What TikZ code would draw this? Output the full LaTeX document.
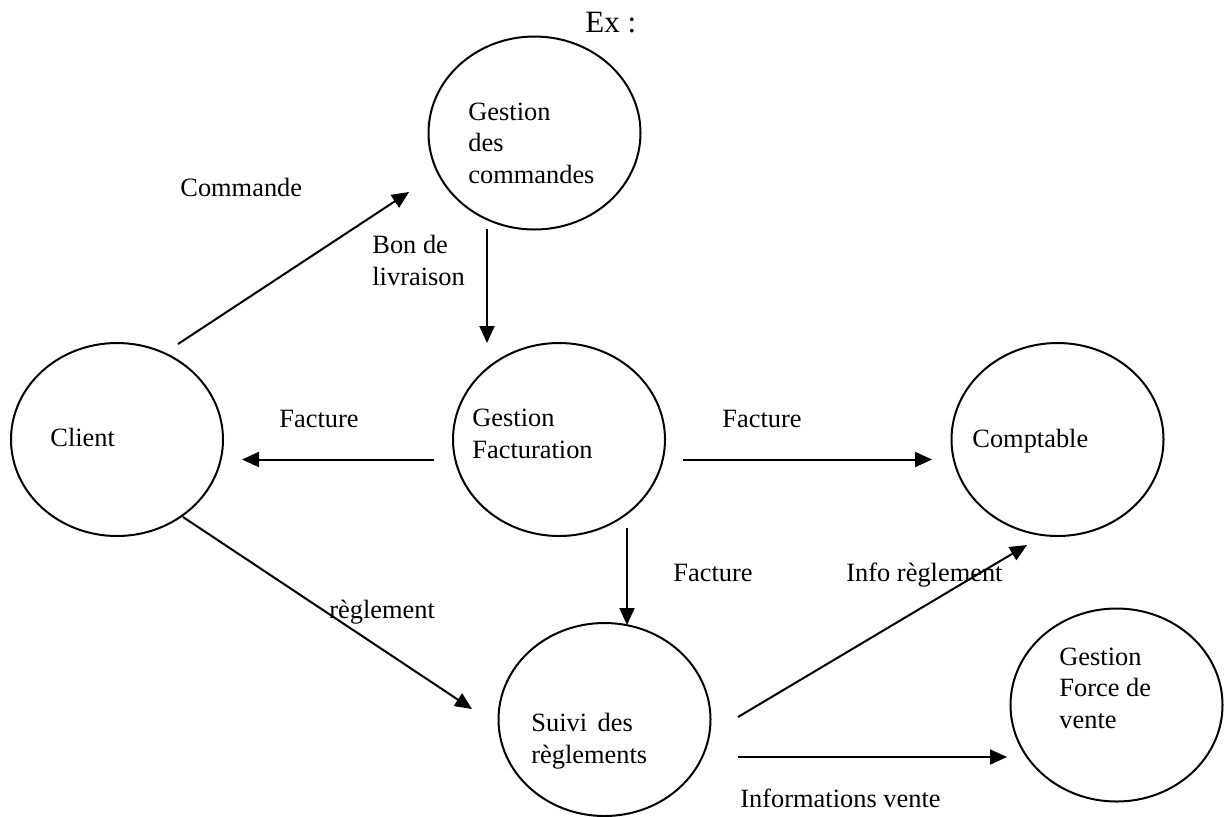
\documentclass[tikz,border=0pt]{standalone}
\usepackage{fontspec}
\setmainfont{Liberation Serif}
\usetikzlibrary{arrows.meta,shapes.geometric}
\begin{document}
\begin{tikzpicture}[x=0.5pt,y=-0.5pt,
  proc/.style={ellipse,draw,line width=1pt,minimum width=106pt,minimum height=96.5pt,inner sep=0pt},
  lbl/.style={anchor=base west,inner sep=0pt,align=left,font={\fontsize{13.2pt}{15.6pt}\selectfont}},
  flow/.style={line width=1pt,-{Triangle[length=8.5pt,width=7.5pt]}}]
\useasboundingbox (0,0) rectangle (1226,816);

% processes and actors
\node[proc] (cmd) at (534.5,133) {};
\node[proc] (cli) at (117,439.5) {};
\node[proc] (fac) at (559,439.5) {};
\node[proc] (cpt) at (1057.5,439.5) {};
\node[proc] (sui) at (604.5,719.5) {};
\node[proc] (fdv) at (1116.5,705) {};

% texts inside the circles (multi-line texts are placed by their last baseline)
\node[lbl] (tcmd) at (468,183) {Gestion\\des\\commandes};
\node[lbl] (tcli) at (50,446) {Client};
\node[lbl] (tfac) at (472,458) {Gestion\\Facturation};
\node[lbl] (tcpt) at (972,447) {Comptable};
\node[lbl] (tsui) at (531,763) {Suivi\hspace{0.4em}des\\règlements};
\node[lbl] (tfdv) at (1059,728) {Gestion\\Force de\\vente};

% title
\node[lbl,font={\fontsize{15.5pt}{18pt}\selectfont}] (ex) at (585,32) {Ex :};

% flow labels
\node[lbl] (lcom) at (180,196) {Commande};
\node[lbl] (lbon) at (372,285) {Bon de\\livraison};
\node[lbl] (lfa1) at (279,427) {Facture};
\node[lbl] (lfa2) at (722,427) {Facture};
\node[lbl] (lfa3) at (673,581) {Facture};
\node[lbl] (linf) at (846,581) {Info règlement};
\node[lbl] (lreg) at (329,618) {règlement};
\node[lbl] (lven) at (740,807) {Informations vente};

% connector end points
\coordinate (a1) at (178,344);   \coordinate (b1) at (409,192);
\coordinate (a2) at (487,229);   \coordinate (b2) at (487,343);
\coordinate (a3) at (434,459.5); \coordinate (b3) at (242,459.5);
\coordinate (a4) at (683,459.5); \coordinate (b4) at (932,459.5);
\coordinate (a5) at (627,528);   \coordinate (b5) at (627,625);
\coordinate (a6) at (183,517);   \coordinate (b6) at (472,709);
\coordinate (a7) at (738,717);   \coordinate (b7) at (1027,545);
\coordinate (a8) at (738,757);   \coordinate (b8) at (1007,757);

% flows
\draw[flow] (a1) -- (b1);
\draw[flow] (a2) -- (b2);
\draw[flow] (a3) -- (b3);
\draw[flow] (a4) -- (b4);
\draw[flow] (a5) -- (b5);
\draw[flow] (a6) -- (b6);
\draw[flow] (a7) -- (b7);
\draw[flow] (a8) -- (b8);
\end{tikzpicture}
\end{document}
